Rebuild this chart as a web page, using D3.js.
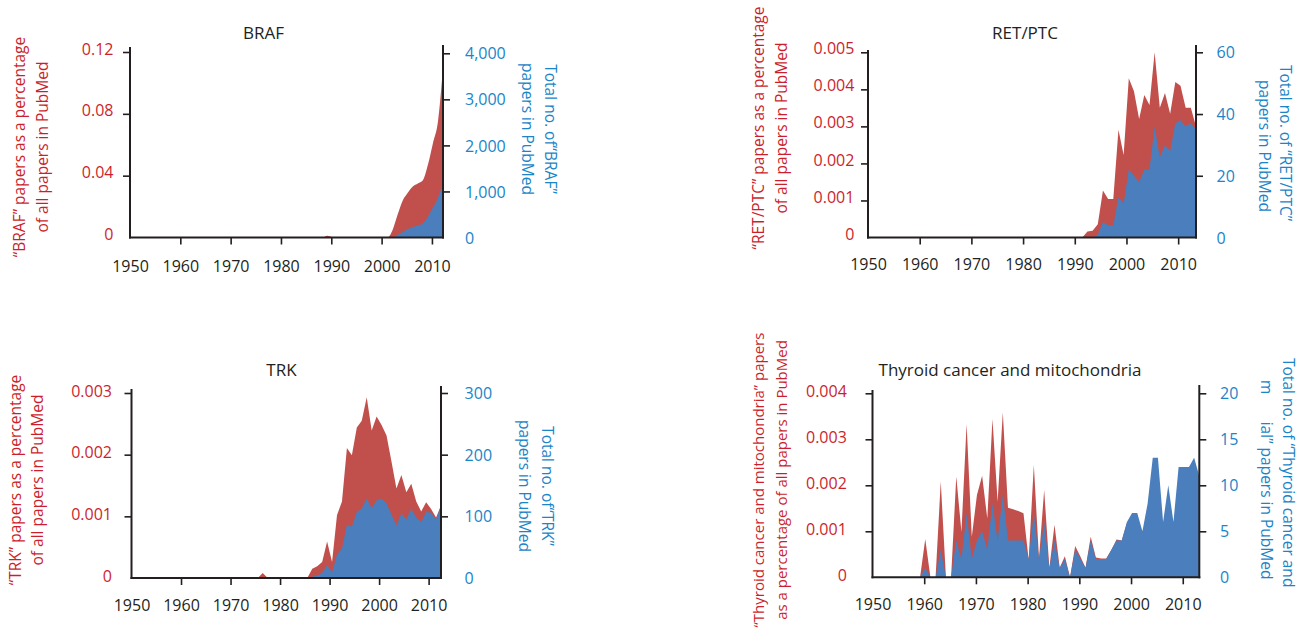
<!DOCTYPE html>
<html><head><meta charset="utf-8">
<script src="https://cdn.jsdelivr.net/npm/d3@7"></script>
<style>
body{margin:0;background:#fff}
svg{display:block}
text{font-family:"Open Sans","Noto Sans",sans-serif}
</style>
</head><body>
<svg id="c" width="1300" height="632"></svg>
<script>
// ---------------- DATA ----------------
const xTicks = [1950, 1960, 1970, 1980, 1990, 2000, 2010];

// BRAF
const brafYears = [1950,1983,1984,1985,1988,1989,1990,1991,1992,1993,2001,2002,2003,2004,2005,2006,2007,2008,2009,2010,2011,2012];
const brafPct   = [0,0,0.0004,0,0,0.0012,0.0003,0,0.0003,0,0,0.005,0.015,0.024,0.029,0.033,0.035,0.037,0.047,0.061,0.075,0.11];
const brafCount = [0,0,0,0,0,0,0,0,0,0,0,0,60,120,185,230,260,310,450,650,860,1200];
const brafLeftTicks = [0, 0.04, 0.08, 0.12];
const brafLeftLabels = ["0", "0.04", "0.08", "0.12"];
const brafRightTicks = [0, 1000, 2000, 3000, 4000];
const brafRightLabels = ["0", "1,000", "2,000", "3,000", "4,000"];

// RET/PTC
const retYears = [1950,1991,1992,1993,1994,1995,1996,1997,1998,1999,2000,2001,2002,2003,2004,2005,2006,2007,2008,2009,2010,2011,2012,2013];
const retPct   = [0,0,0.00016,0.00018,0.00036,0.00127,0.00104,0.00104,0.00291,0.00223,0.0043,0.00395,0.0032,0.00385,0.00358,0.005,0.0035,0.0039,0.00334,0.0042,0.0041,0.0035,0.0035,0.003];
const retCount = [0,0,0,0,1,5,4,4,13,11,22,20,18,22,22,36,26,30,28,37,38,36,37,35];
const retLeftTicks = [0, 0.001, 0.002, 0.003, 0.004, 0.005];
const retLeftLabels = ["0", "0.001", "0.002", "0.003", "0.004", "0.005"];
const retRightTicks = [0, 20, 40, 60];
const retRightLabels = ["0", "20", "40", "60"];

// TRK
const trkYears = [1950,1975,1976,1977,1985,1986,1987,1988,1989,1990,1991,1992,1993,1994,1995,1996,1997,1998,1999,2000,2001,2002,2003,2004,2005,2006,2007,2008,2009,2010,2011,2012];
const trkPct   = [0,0,0.00008,0,0,0.00015,0.00019,0.00026,0.00059,0.00026,0.00102,0.00124,0.00211,0.00199,0.00244,0.00255,0.00293,0.00239,0.00262,0.00248,0.00231,0.00189,0.00145,0.00167,0.00139,0.00153,0.00124,0.00108,0.00123,0.00112,0.00098,0.00117];
const trkCount = [0,0,0,0,0,2,4,8,21,9,38,48,86,83,107,113,129,113,126,129,121,103,85,105,95,112,98,91,107,106,95,118];
const trkLeftTicks = [0, 0.001, 0.002, 0.003];
const trkLeftLabels = ["0", "0.001", "0.002", "0.003"];
const trkRightTicks = [0, 100, 200, 300];
const trkRightLabels = ["0", "100", "200", "300"];

// Thyroid cancer and mitochondria
const thyYears = [1950,1959,1960,1961,1962,1963,1964,1965,1966,1967,1968,1969,1970,1971,1972,1973,1974,1975,1976,1977,1978,1979,1980,1981,1982,1983,1984,1985,1986,1987,1988,1989,1990,1991,1992,1993,1994,1995,1996,1997,1998,1999,2000,2001,2002,2003,2004,2005,2006,2007,2008,2009,2010,2011,2012,2013];
const thyPct   = [0,0,0.00083,0,0,0.00208,0,0,0.00219,0.00099,0.00333,0.00088,0.00179,0.00221,0.00128,0.00344,0.00164,0.00359,0.00151,0.00148,0.00144,0.00139,0.00038,0.00244,0.00041,0.0019,0.0002,0.00114,0.00021,0.00046,0,0.00068,0.00045,0.00021,0.00088,0.00043,0.00041,0.00041,0.0006,0.00082,0.0008,0.00118,0.0013,0.0012,0.0008,0.0013,0.002,0.0019,0.0008,0.0013,0.0007,0.0014,0.0013,0.0012,0.0012,0.001];
const thyCount = [0,0,1,0,0,3,0,0,4,2,7,2,4,5,3,8,4,9,4,4,4,4,2,7,2,6,1,4,1,2,0,3,2,1,4,2,2,2,3,4,4,6,7,7,5,8,13,13,6,10,6,12,12,12,13,11];
const thyLeftTicks = [0, 0.001, 0.002, 0.003, 0.004];
const thyLeftLabels = ["0", "0.001", "0.002", "0.003", "0.004"];
const thyRightTicks = [0, 5, 10, 15, 20];
const thyRightLabels = ["0", "5", "10", "15", "20"];

// ---------------- STYLE ----------------
const RED_FILL = "#c1504d", BLUE_FILL = "#4a7ebc";
const RED_TEXT = "#cc1f2d", BLUE_TEXT = "#1a85c8", INK = "#231f20";
const FONT = '"Open Sans","Noto Sans",sans-serif';

const panels = [
  {title:"BRAF", years:brafYears, pct:brafPct, cnt:brafCount,
   lT:brafLeftTicks, lL:brafLeftLabels, rT:brafRightTicks, rL:brafRightLabels,
   leftTitle:["\u201CBRAF\u201D papers as a percentage","of all papers in PubMed"], ltFs:15.5,
   rightTitle:["Total no. of\u201CBRAF\u201D","papers in PubMed"],
   x0:130, x1:443, yB:237.5, lTop:52, rTop:53.3, axTopL:47, axTopR:45,
   tx:263.5, ty:33, ltX:[19,41.5], ltY:147, rtX:[551,528], rtY:[129,129],
   off:0.2, last:2012, lEdge:113.5, rEdge:465, xLabY:266, lDy:-3.5, curve:d3.curveMonotoneX},
  {title:"RET/PTC", years:retYears, pct:retPct, cnt:retCount,
   lT:retLeftTicks, lL:retLeftLabels, rT:retRightTicks, rL:retRightLabels,
   leftTitle:["\u201CRET/PTC\u201D papers as a percentage","of all papers in PubMed"], ltFs:15.5,
   rightTitle:["Total no. of \u201CRET/PTC\u201D","papers in PubMed"],
   x0:868, x1:1196, yB:237.5, lTop:52.3, rTop:52.3, axTopL:50, axTopR:45,
   tx:1025, ty:33, ltX:[758,780.6], ltY:128, rtX:[1286,1265], rtY:[143,146],
   off:0.45, last:2013, lEdge:854.4, rEdge:1216.6, xLabY:264.5, lDy:-4, curve:d3.curveLinear},
  {title:"TRK", years:trkYears, pct:trkPct, cnt:trkCount,
   lT:trkLeftTicks, lL:trkLeftLabels, rT:trkRightTicks, rL:trkRightLabels,
   leftTitle:["\u201CTRK\u201D papers as a percentage","of all papers in PubMed"], ltFs:15.5,
   rightTitle:["Total no. of\u201CTRK\u201D","papers in PubMed"],
   x0:131.5, x1:441, yB:578, lTop:393, rTop:393, axTopL:389, axTopR:386,
   tx:281.5, ty:370, ltX:[15.4,36.5], ltY:480, rtX:[548,525], rtY:[486,486],
   off:0.5, last:2012, lEdge:112, rEdge:464.6, xLabY:605, lDy:-2.5, curve:d3.curveLinear},
  {title:"Thyroid cancer and mitochondria", years:thyYears, pct:thyPct, cnt:thyCount,
   lT:thyLeftTicks, lL:thyLeftLabels, rT:thyRightTicks, rL:thyRightLabels,
   leftTitle:["\u201CThyroid cancer and mitochondria\u201D papers","as a percentage of all papers in PubMed"], ltFs:15,
   rightTitle:null,
   x0:872.5, x1:1199.3, yB:577.3, lTop:393.3, rTop:393.3, axTopL:390, axTopR:385,
   tx:1010, ty:370, ltX:[758,781], ltY:480,
   off:0.2, last:2013, lEdge:846.8, rEdge:1220, xLabY:604, lDy:-2.5, curve:d3.curveLinear}
];

const svg = d3.select("#c");

panels.forEach(p => {
  const g = svg.append("g");
  const x = d3.scaleLinear().domain([1950, p.last + p.off]).range([p.x0, p.x1]);
  const yL = d3.scaleLinear().domain([0, p.lT[p.lT.length-1]]).range([p.yB, p.lTop]);
  const yR = d3.scaleLinear().domain([0, p.rT[p.rT.length-1]]).range([p.yB, p.rTop]);

  const rows = p.years.map((yr, i) => ({year: yr, pct: p.pct[i], cnt: p.cnt[i]}));
  const px = d => x(d.year + (d.year === 1950 ? 0 : p.off));

  g.append("path").datum(rows)
    .attr("fill", RED_FILL)
    .attr("d", d3.area().curve(p.curve).x(px).y0(p.yB).y1(d => yL(d.pct)));
  g.append("path").datum(rows)
    .attr("fill", BLUE_FILL)
    .attr("d", d3.area().curve(p.curve).x(px).y0(p.yB).y1(d => yR(d.cnt)));

  const fs = "16px";
  const ax = g.append("g").attr("transform", `translate(0,${p.yB})`)
    .call(d3.axisBottom(x).tickValues(xTicks).tickFormat(d3.format("d")).tickSize(7).tickSizeOuter(0));
  ax.select(".domain").remove();
  ax.selectAll(".tick line").attr("stroke", INK).attr("stroke-width", 1.6)
    .filter(d => d === 1950).remove();
  ax.selectAll(".tick text").attr("y", p.xLabY - p.yB).attr("dy", "0.35em")
    .attr("fill", INK).style("font-size", fs).style("font-family", FONT);

  const al = g.append("g").attr("transform", `translate(${p.x0},0)`)
    .call(d3.axisLeft(yL).tickValues(p.lT).tickFormat((d, i) => p.lL[i]).tickSize(7).tickSizeOuter(0));
  al.select(".domain").remove();
  al.selectAll(".tick line").attr("stroke", INK).attr("stroke-width", 1.6)
    .filter(d => d === 0).remove();
  al.selectAll(".tick text").attr("x", p.lEdge - p.x0).attr("dy", "0.35em").attr("y", p.lDy)
    .attr("fill", RED_TEXT).style("font-size", fs).style("font-family", FONT);

  const ar = g.append("g").attr("transform", `translate(${p.x1},0)`)
    .call(d3.axisRight(yR).tickValues(p.rT).tickFormat((d, i) => p.rL[i]).tickSize(7).tickSizeOuter(0));
  ar.select(".domain").remove();
  ar.selectAll(".tick line").attr("stroke", INK).attr("stroke-width", 1.6)
    .filter(d => d === 0).remove();
  ar.selectAll(".tick text").attr("x", p.rEdge - p.x1).attr("dy", "0.35em")
    .attr("fill", BLUE_TEXT).style("font-size", fs).style("font-family", FONT);

  g.append("line").attr("x1", p.x0).attr("x2", p.x0).attr("y1", p.axTopL).attr("y2", p.yB + 1)
    .attr("stroke", INK).attr("stroke-width", 2);
  g.append("line").attr("x1", p.x1).attr("x2", p.x1).attr("y1", p.axTopR).attr("y2", p.yB + 1)
    .attr("stroke", INK).attr("stroke-width", 2);
  g.append("line").attr("x1", p.x0 - 1).attr("x2", p.x1 + 1).attr("y1", p.yB).attr("y2", p.yB)
    .attr("stroke", INK).attr("stroke-width", 2);

  g.append("text").attr("x", p.tx).attr("y", p.ty).attr("dy", "0.35em")
    .attr("text-anchor", "middle").attr("fill", INK).style("font-size", "17px").text(p.title);

  p.leftTitle.forEach((t, i) => {
    g.append("text").attr("transform", `translate(${p.ltX[i]},${p.ltY}) rotate(-90)`)
      .attr("text-anchor", "middle").attr("dominant-baseline", "central")
      .attr("fill", RED_TEXT).style("font-size", p.ltFs + "px").text(t);
  });

  if (p.rightTitle) {
    p.rightTitle.forEach((t, i) => {
      g.append("text").attr("transform", `translate(${p.rtX[i]},${p.rtY[i]}) rotate(90)`)
        .attr("text-anchor", "middle").attr("dominant-baseline", "central")
        .attr("fill", BLUE_TEXT).style("font-size", "15.5px").text(t);
    });
  }
});

// Thyroid right title, reproduced as shown in the original (broken second line)
const thyRight = [
  {x:1288.6, y:358, s:"Total no. of \u201CThyroid cancer and"},
  {x:1267, y:380, s:"m"},
  {x:1267, y:421.7, s:"ial\u201D papers in PubMed"}
];
thyRight.forEach(t => {
  svg.append("text").attr("transform", `translate(${t.x},${t.y}) rotate(90)`)
    .attr("text-anchor", "start").attr("dominant-baseline", "central")
    .attr("fill", BLUE_TEXT).style("font-size", "15.5px").text(t.s);
});
</script>
</body></html>
